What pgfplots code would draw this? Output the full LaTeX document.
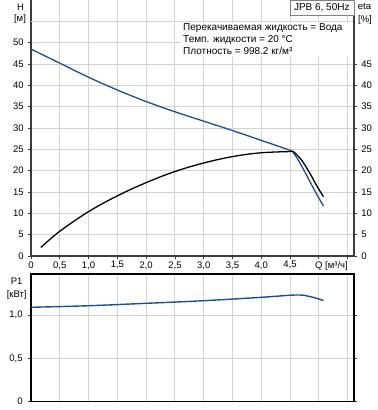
\documentclass[border=0pt]{standalone}
\usepackage{fontspec}
\setmainfont{Liberation Sans}
\usepackage{pgfplots}
\pgfplotsset{compat=1.18}
\definecolor{hblue}{HTML}{1F4E8A}
\definecolor{gridc}{HTML}{D2D2D2}
\definecolor{axc}{HTML}{3C3C3C}
\begin{document}
\fontsize{9.5bp}{11bp}\selectfont
\begin{tikzpicture}
\useasboundingbox (0,0) rectangle (378bp,-410bp);
\pgfplotsset{
  common/.style={
    scale only axis, width=323bp,
    xmin=0, xmax=5.61,
    grid=major, grid style={gridc, line width=0.9bp},
    tick align=outside, major tick length=3bp,
    axis line style={-, axc, line width=1.1bp},
    tick style={axc, line width=0.8bp},
    ticklabel style={font=\fontsize{9.5bp}{11bp}\selectfont},
    /pgf/number format/assume math mode=true,
    xtick={0,0.5,...,5.5},
  }
}
% top axis
\begin{axis}[common,
  at={(31bp,-256bp)}, anchor=south west, height=256bp,
  ymin=0, ymax=60,
  axis x line*=bottom, axis y line*=left,
  xticklabels={0,{0,5},{1,0},{1,5},{2,0},{2,5},{3,0},{3,5},{4,0},{4,5},{},{}},
  ytick={0,5,...,50},
  extra y ticks={55}, extra y tick labels={},
  extra y tick style={major tick length=0pt, grid=major},
  yticklabel style={xshift=-1bp},
  xticklabel style={yshift=1bp},
]
\addplot[hblue, line width=1.3bp, smooth, tension=0.6] coordinates {
(0,48.5)(0.5,45.2)(1.0,41.9)(1.5,38.9)(2.0,36.2)(2.5,33.8)(3.0,31.6)(3.5,29.4)(4.0,27.1)(4.54,24.6)};
\addplot[hblue, line width=1.3bp, smooth, tension=0.4] coordinates {
(4.54,24.6)(4.65,22.3)(4.80,18.6)(4.94,15.0)(5.08,11.7)};
\addplot[black, line width=1.3bp, smooth, tension=0.6] coordinates {
(0.17,2.0)(0.5,5.8)(1.0,10.4)(1.5,14.1)(2.0,17.2)(2.5,19.8)(3.0,21.8)(3.5,23.3)(4.0,24.2)(4.56,24.5)};
\addplot[black, line width=1.3bp, smooth, tension=0.5] coordinates {
(4.56,24.5)(4.71,22.3)(4.86,19.0)(4.97,16.3)(5.08,13.9)};
\end{axis}
% right eta axis
\begin{axis}[
  scale only axis, width=323bp, height=256bp,
  at={(31bp,-256bp)}, anchor=south west,
  xmin=0, xmax=5.61, ymin=0, ymax=60,
  axis x line=none, axis y line*=right,
  ytick={0,5,...,45},
  tick align=outside, major tick length=3bp,
  axis line style={-, axc, line width=1.1bp},
  tick style={axc, line width=0.8bp},
  ticklabel style={font=\fontsize{9.5bp}{11bp}\selectfont},
  /pgf/number format/assume math mode=true,
  yticklabel style={xshift=1bp},
]
\end{axis}
% bottom P1 axis
\begin{axis}[common,
  at={(31bp,-401.7bp)}, anchor=south west, height=127.7bp,
  ymin=0, ymax=1.473,
  xticklabels={}, 
  x tick style={draw=none},
  ytick={0,0.5,1.0}, yticklabels={0,{0,5},{1,0}},
  yticklabel style={xshift=-2bp},
  axis line style={-, black, line width=1.1bp},
]
\addplot[hblue, line width=1.4bp, smooth, tension=0.6] coordinates {
(0,1.089)(1,1.107)(2,1.135)(3,1.165)(4,1.204)(4.61,1.231)(4.85,1.212)(5.08,1.167)};
\end{axis}
% labels
\node at (20.5bp,-7bp) {H};
\node at (20bp,-19.5bp) {[м]};
\node at (364.5bp,-6.5bp) {eta};
\node at (365bp,-20bp) {[\%]};
\node at (16.7bp,-281.7bp) {P1};
\node at (16.7bp,-295bp) {[кВт]};
\node[anchor=north west, inner sep=0pt] at (315bp,-261bp) {Q [м³/ч]};
\fill[white] (181bp,-22.6bp) rectangle (353bp,-57bp);
\begin{scope}[font=\fontsize{10bp}{12bp}\selectfont]
\node[anchor=base west, inner sep=0pt] at (183bp,-30.3bp) {Перекачиваемая жидкость = Вода};
\node[anchor=base west, inner sep=0pt] at (183bp,-42bp) {Темп. жидкости = 20 °C};
\node[anchor=base west, inner sep=0pt] at (183bp,-54.3bp) {Плотность = 998.2 кг/м³};
\node[draw=gray, fill=white, anchor=north east, minimum width=64bp, minimum height=14.5bp, inner sep=0pt] at (354bp,0bp) {JPB 6, 50Hz};
\end{scope}
\end{tikzpicture}
\end{document}
